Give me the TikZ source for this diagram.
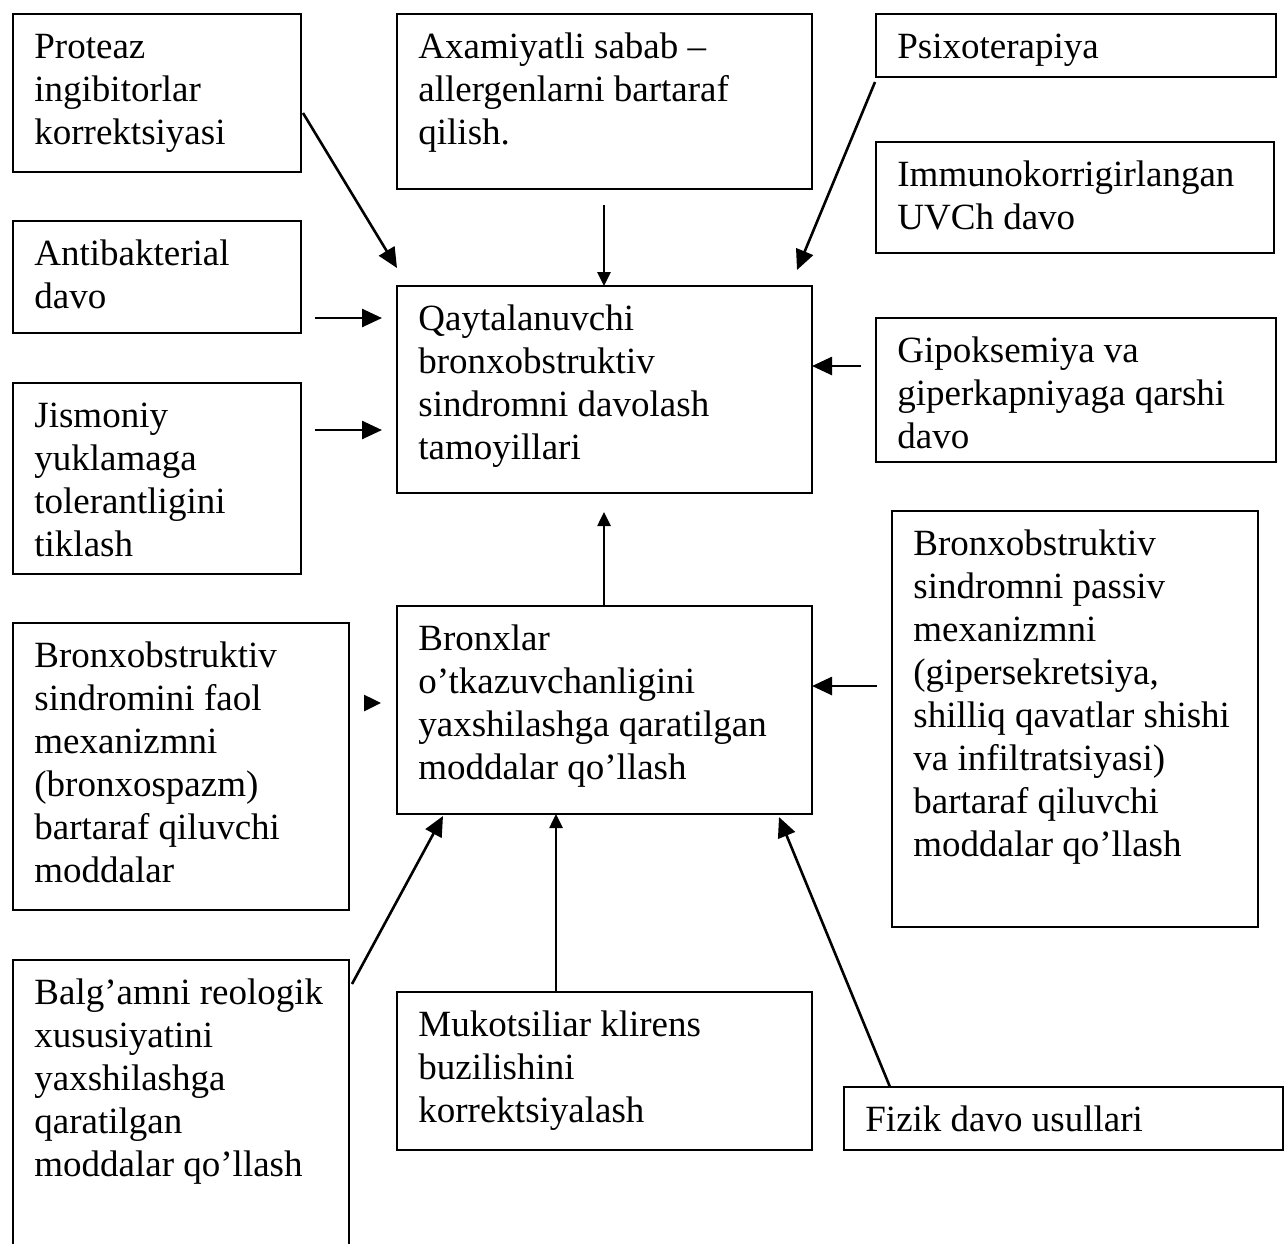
\documentclass[tikz,border=0pt]{standalone}
\usepackage{fontspec}
\setmainfont{Liberation Serif}
\usetikzlibrary{arrows.meta,calc}

% A framed box (outline node) with its text set top-left inside it.
% #1 name, #2 #3 top-left corner, #4 #5 bottom-right corner, #6 text
\newcommand\flowbox[6]{%
  \node[boxframe, minimum width={(#4-#2)*0.5pt}, minimum height={(#5-#3)*0.5pt}] (#1) at (#2,#3) {};
  \node[boxtext] (#1-txt) at ({#2+21},{#3+16}) {\rule{0pt}{0.75em}#6};
}

\begin{document}
\begin{tikzpicture}[x=0.5pt, y=-0.5pt,
  boxframe/.style={draw=black, line width=1pt, inner sep=0pt, outer sep=0pt, anchor=north west},
  boxtext/.style={anchor=north west, align=left, inner sep=0pt,
    font=\fontsize{18.5}{21.5}\selectfont},
  arr/.style={line width=1.3pt, -{Triangle[length=10pt,width=9pt]}},
  arrsmall/.style={line width=1.3pt, -{Triangle[length=7pt,width=6.5pt]}}]
\useasboundingbox (0,0) rectangle (1284,1243);
\clip (0,0) rectangle (1284,1243);

% boxes
\flowbox{prot}{13}{14}{301}{172}{Proteaz\\ingibitorlar\\korrektsiyasi}
\flowbox{sabab}{397}{14}{812}{189}{Axamiyatli sabab –\\allergenlarni bartaraf\\qilish.}
\flowbox{psix}{876}{14}{1276}{77}{Psixoterapiya}
\flowbox{immun}{876}{142}{1274}{253}{Immunokorrigirlangan\\UVCh davo}
\flowbox{anti}{13}{221}{301}{333}{Antibakterial\\davo}
\flowbox{main}{397}{286}{812}{493}{Qaytalanuvchi\\bronxobstruktiv\\sindromni davolash\\tamoyillari}
\flowbox{gipo}{876}{318}{1276}{462}{Gipoksemiya va\\giperkapniyaga qarshi\\davo}
\flowbox{jism}{13}{383}{301}{574}{Jismoniy\\yuklamaga\\tolerantligini\\tiklash}
\flowbox{bronx}{397}{606}{812}{814}{Bronxlar\\o’tkazuvchanligini\\yaxshilashga qaratilgan\\moddalar qo’llash}
\flowbox{passiv}{892}{511}{1258}{927}{Bronxobstruktiv\\sindromni passiv\\mexanizmni\\(gipersekretsiya,\\shilliq qavatlar shishi\\va infiltratsiyasi)\\bartaraf qiluvchi\\moddalar qo’llash}
\flowbox{faol}{13}{623}{349}{910}{Bronxobstruktiv\\sindromini faol\\mexanizmni\\(bronxospazm)\\bartaraf qiluvchi\\moddalar}
\flowbox{balg}{13}{960}{349}{1275}{Balg’amni reologik\\xususiyatini\\yaxshilashga\\qaratilgan\\moddalar qo’llash}
\flowbox{muko}{397}{992}{812}{1150}{Mukotsiliar klirens\\buzilishini\\korrektsiyalash}
\flowbox{fizik}{844}{1087}{1283}{1150}{Fizik davo usullari}

% free ends of the connectors
\coordinate (protOut) at (303,113);
\coordinate (mainInA) at (397,268);
\coordinate (sababOut) at (604,205);
\coordinate (psixOut) at (875,82);
\coordinate (mainInB) at (797,270);
\coordinate (antiOut) at (315,318);
\coordinate (mainInC) at (382,318);
\coordinate (jismOut) at (315,430);
\coordinate (mainInD) at (382,430);
\coordinate (gipoOut) at (861,366);
\coordinate (mainUp) at (604,512);
\coordinate (faolOut) at (364,703);
\coordinate (bronxInA) at (381,703);
\coordinate (passivOut) at (877,686);
\coordinate (balgOut) at (352,984);
\coordinate (bronxInB) at (443,816);
\coordinate (mukoX) at (556,0);
\coordinate (fizikOut) at (890,1087);
\coordinate (bronxInC) at (779,817);

% connectors into the upper central box
\draw[arr] (protOut) -- (mainInA);
\draw[arrsmall] (sababOut) -- (main.north -| sababOut);
\draw[arr] (psixOut) -- (mainInB);
\draw[arr] (antiOut) -- (mainInC);
\draw[arr] (jismOut) -- (mainInD);
\draw[arr] (gipoOut) -- (main.east |- gipoOut);
\draw[arrsmall] (bronx.north -| mainUp) -- (mainUp);

% connectors into the lower central box
\draw[line width=1.3pt, -{Triangle[length=8.5pt,width=8pt]}] (faolOut) -- (bronxInA);
\draw[arr] (passivOut) -- (bronx.east |- passivOut);
\draw[arr] (balgOut) -- (bronxInB);
\draw[arrsmall] (muko.north -| mukoX) -- (bronx.south -| mukoX);
\draw[arr] (fizikOut) -- (bronxInC);
\end{tikzpicture}
\end{document}
